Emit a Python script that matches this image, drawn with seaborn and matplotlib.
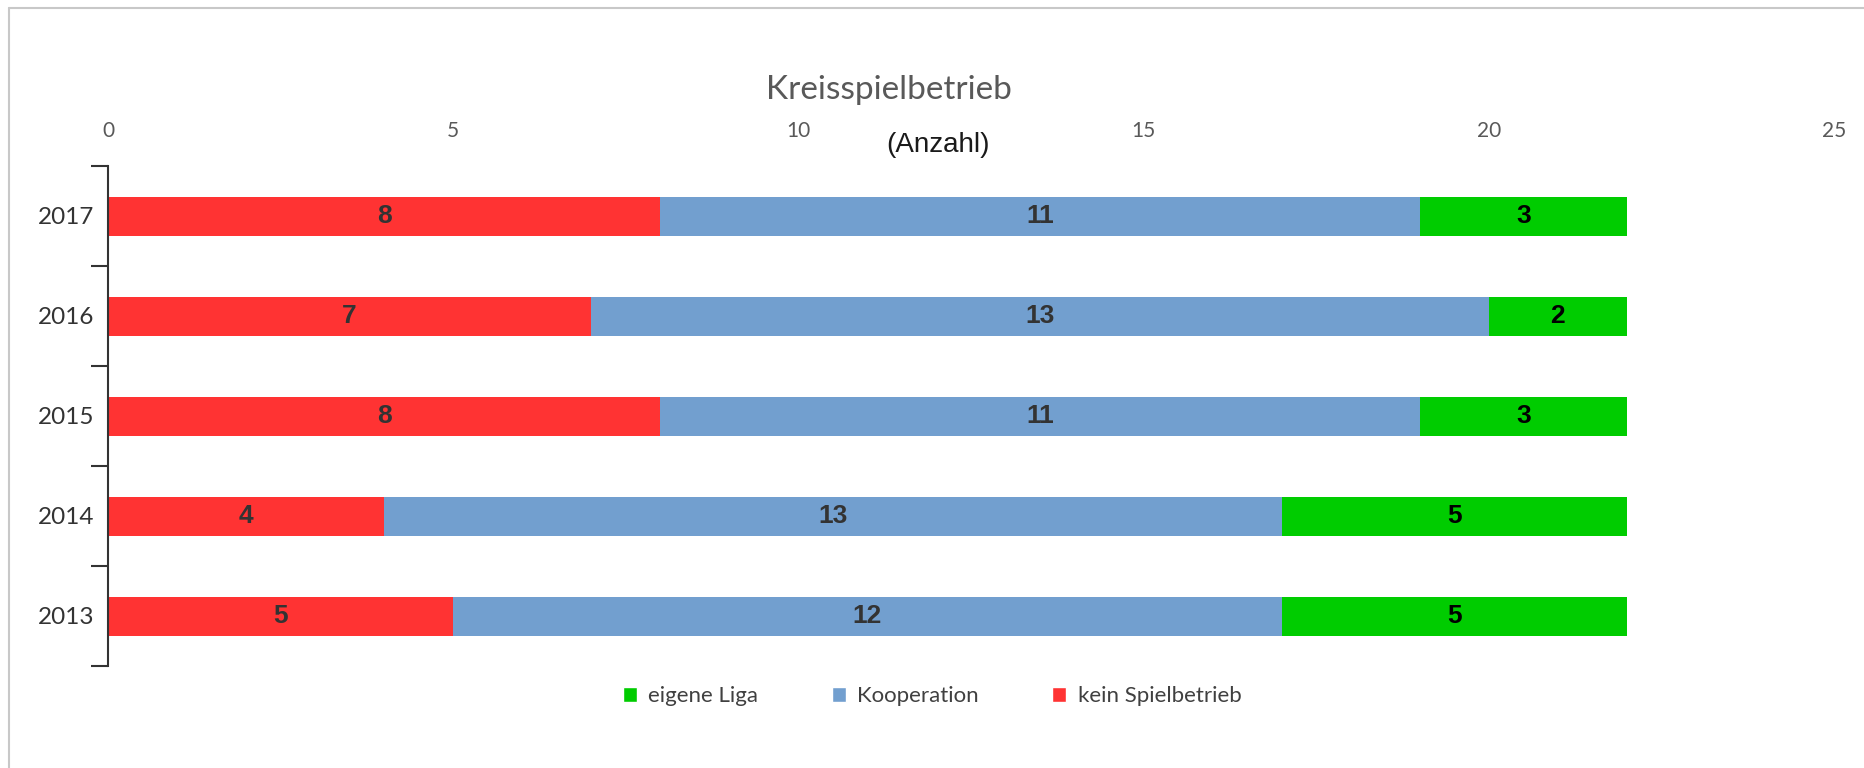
import matplotlib
matplotlib.use("Agg")
import matplotlib.pyplot as plt
from matplotlib.lines import Line2D
from matplotlib.patches import Patch
import numpy as np
import pandas as pd
import seaborn as sns

# data, top row first
years = ["2017", "2016", "2015", "2014", "2013"]
kein_spielbetrieb = [8, 7, 8, 4, 5]
kooperation = [11, 13, 11, 13, 12]
eigene_liga = [3, 2, 3, 5, 5]
x_ticks = [0, 5, 10, 15, 20, 25]

RED = "#ff3333"
BLUE = "#729fcf"
GREEN = "#00cc00"

sns.set_style("white")
plt.rcParams["font.family"] = ["Lato", "DejaVu Sans"]

df = pd.DataFrame({
    "Jahr": years,
    "kein": kein_spielbetrieb,
    "koop": kooperation,
    "liga": eigene_liga,
})
df["red_end"] = df["kein"]
df["blue_end"] = df["kein"] + df["koop"]
df["green_end"] = df["blue_end"] + df["liga"]

fig = plt.figure(figsize=(18.64, 7.68), dpi=100)
ax = fig.add_axes([108 / 1864, 1 - 666 / 768, (1834 - 108) / 1864, 500 / 768])

# stacked bars: draw the totals first, then overlay the shorter sums
for col, color in [("green_end", GREEN), ("blue_end", BLUE), ("red_end", RED)]:
    sns.barplot(data=df, x=col, y="Jahr", order=years, color=color,
                width=0.39, saturation=1, edgecolor="none", ax=ax)

# segment labels
for i, row in df.iterrows():
    segs = [(0, row["kein"], "#333333"),
            (row["red_end"], row["koop"], "#333333"),
            (row["blue_end"], row["liga"], "black")]
    for start, val, tc in segs:
        ax.text(start + val / 2, i, str(val), ha="center", va="center",
                fontsize=19, fontweight="bold", color=tc,
                family=["Liberation Sans", "DejaVu Sans"])

ax.set_xlim(0, 25)
ax.set_ylim(len(years) - 0.5, -0.5)
ax.set_xticks(x_ticks)
ax.set_xlabel("")
ax.set_ylabel("")
ax.xaxis.set_ticks_position("top")
ax.tick_params(axis="x", top=False, bottom=False, labeltop=True, labelbottom=False,
               length=0, pad=18, labelsize=15, labelcolor="#595959")
ax.tick_params(axis="y", which="major", left=True, length=0, pad=10,
               labelsize=17.5, labelcolor="#333333")
ax.set_yticks(np.arange(len(years) + 1) - 0.5, minor=True)
ax.tick_params(axis="y", which="minor", left=True, length=12, width=1.5,
               color="#333333", direction="out")
for side in ["top", "right", "bottom"]:
    ax.spines[side].set_visible(False)
ax.spines["left"].set_color("#333333")
ax.spines["left"].set_linewidth(1.5)

fig.text(889 / 1864, 1 - 90 / 768, "Kreisspielbetrieb", ha="center", va="center",
         fontsize=24, color="#595959")
fig.text(938 / 1864, 1 - 145 / 768, "(Anzahl)", ha="center", va="center",
         fontsize=20, color="#1a1a1a", family=["Liberation Sans", "DejaVu Sans"])

handles = [Patch(facecolor=GREEN, label="eigene Liga"),
           Patch(facecolor=BLUE, label="Kooperation"),
           Patch(facecolor=RED, label="kein Spielbetrieb")]
fig.legend(handles=handles, loc="center", bbox_to_anchor=(0.5, 1 - 696 / 768),
           ncol=3, frameon=False, fontsize=16, handlelength=0.65, handleheight=0.65,
           handletextpad=0.5, columnspacing=3.3, labelcolor="#404040")

# outer frame lines (top and left)
fig.add_artist(Line2D([9 / 1864, 9 / 1864], [0, 1 - 8 / 768], color="#c8c8c8",
                      lw=1.5, transform=fig.transFigure))
fig.add_artist(Line2D([9 / 1864, 1], [1 - 8 / 768, 1 - 8 / 768], color="#c8c8c8",
                      lw=1.5, transform=fig.transFigure))

fig.savefig("out.png", dpi=100)
